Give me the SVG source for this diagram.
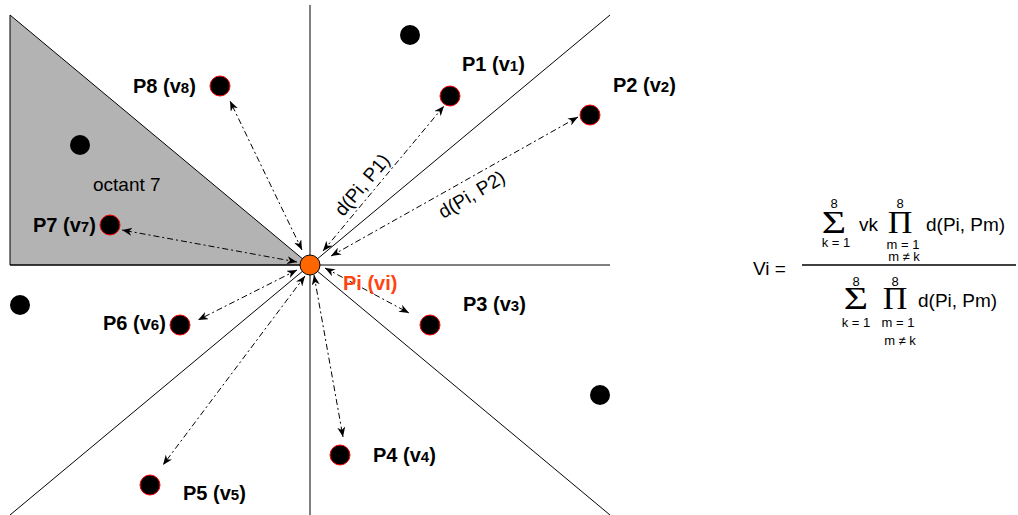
<svg xmlns="http://www.w3.org/2000/svg" width="1018" height="515" viewBox="0 0 1018 515">
<style>
.ax{stroke:#000;stroke-width:1;fill:none}
.c{stroke:#000;stroke-width:1;fill:none;stroke-dasharray:6 3 2 3;marker-start:url(#ah);marker-end:url(#ah)}
.pt{fill:#000;stroke:#f00;stroke-width:1}
.dot{fill:#000}
.lb{font-family:"Liberation Sans",Arial,sans-serif;font-weight:bold;font-size:20px;fill:#000}
.sm{font-size:15px}
.t{font-family:"Liberation Sans",Arial,sans-serif;font-size:19px;fill:#000}
.s{font-family:"Liberation Sans",Arial,sans-serif;font-size:13px;fill:#000;text-anchor:middle}
.op{font-family:"Liberation Serif","Times New Roman",serif;font-size:31px;fill:#000;text-anchor:middle}
</style>
<defs>
<marker id="ah" viewBox="0 0 10 8" refX="10" refY="4" markerWidth="10" markerHeight="8" markerUnits="userSpaceOnUse" orient="auto-start-reverse">
<path d="M0,0 L10,4 L0,8 L3,4 Z" fill="#000"/>
</marker>
</defs>
<g id="octant7">
<polygon points="10,15 310,265 10,265" fill="#B3B3B3" stroke="#000" stroke-width="1"/>
<text class="t" x="93" y="191">octant 7</text>
</g>
<g id="axes">
<line class="ax" x1="310" y1="5" x2="310" y2="515"/>
<line class="ax" x1="10" y1="265" x2="610" y2="265"/>
<line class="ax" x1="310" y1="265" x2="610" y2="15"/>
<line class="ax" x1="310" y1="265" x2="610" y2="515"/>
<line class="ax" x1="310" y1="265" x2="10" y2="515"/>
</g>
<g id="connectors">
<line class="c" x1="323" y1="251" x2="444" y2="106"/>
<line class="c" x1="331" y1="256" x2="578" y2="117"/>
<line class="c" x1="325" y1="268" x2="409" y2="313"/>
<line class="c" x1="314" y1="275" x2="343" y2="437"/>
<line class="c" x1="305" y1="276" x2="163" y2="465"/>
<line class="c" x1="297" y1="270" x2="198" y2="320"/>
<line class="c" x1="297" y1="262" x2="122" y2="230"/>
<line class="c" x1="302" y1="250" x2="230" y2="101"/>
<text class="t" transform="translate(367,189) rotate(-50)" text-anchor="middle">d(Pi, P1)</text>
<text class="t" transform="translate(475,200) rotate(-31)" text-anchor="middle">d(Pi, P2)</text>
</g>
<g id="dots">
<circle class="dot" cx="410" cy="35" r="10"/>
<circle class="dot" cx="80" cy="145" r="10"/>
<circle class="dot" cx="20" cy="305" r="10"/>
<circle class="dot" cx="600" cy="395" r="10"/>
</g>
<g id="P1"><circle class="pt" cx="450" cy="96" r="10"/><text class="lb" x="462" y="71">P1 (v<tspan class="sm">1</tspan>)</text></g>
<g id="P2"><circle class="pt" cx="590" cy="115" r="10"/><text class="lb" x="613" y="92">P2 (v<tspan class="sm">2</tspan>)</text></g>
<g id="P3"><circle class="pt" cx="430" cy="325" r="10"/><text class="lb" x="463" y="311">P3 (v<tspan class="sm">3</tspan>)</text></g>
<g id="P4"><circle class="pt" cx="340" cy="455" r="10"/><text class="lb" x="373" y="462">P4 (v<tspan class="sm">4</tspan>)</text></g>
<g id="P5"><circle class="pt" cx="150" cy="485" r="10"/><text class="lb" x="183" y="500">P5 (v<tspan class="sm">5</tspan>)</text></g>
<g id="P6"><circle class="pt" cx="180" cy="325" r="10"/><text class="lb" x="103" y="330">P6 (v<tspan class="sm">6</tspan>)</text></g>
<g id="P7"><circle class="pt" cx="110" cy="225" r="10"/><text class="lb" x="33" y="232">P7 (v<tspan class="sm">7</tspan>)</text></g>
<g id="P8"><circle class="pt" cx="220" cy="86" r="10"/><text class="lb" x="133" y="93">P8 (v<tspan class="sm">8</tspan>)</text></g>
<g id="Pi"><circle cx="310" cy="265" r="10" fill="#FF6600" stroke="#000" stroke-width="1"/><text class="lb" x="343" y="290" style="fill:#FF4411">Pi (vi)</text></g>
<g id="formula">
<text class="t" x="753" y="275">Vi =</text>
<line x1="802" y1="265" x2="1016" y2="265" stroke="#000" stroke-width="1.3"/>
<text class="s" x="834" y="208">8</text>
<text class="op" transform="translate(834,233) scale(1.35,1)">Σ</text>
<text class="s" x="836" y="247">k = 1</text>
<text class="t" x="859" y="231">vk</text>
<text class="s" x="900" y="208">8</text>
<text class="op" transform="translate(900,233) scale(1.1,1)">Π</text>
<text class="s" x="903" y="249">m = 1</text>
<text class="s" x="904" y="261">m ≠ k</text>
<text class="t" x="926" y="231">d(Pi, Pm)</text>
<text class="s" x="856" y="286">8</text>
<text class="op" transform="translate(856,309) scale(1.35,1)">Σ</text>
<text class="s" x="856" y="327">k = 1</text>
<text class="s" x="895" y="286">8</text>
<text class="op" transform="translate(895,309) scale(1.1,1)">Π</text>
<text class="s" x="898" y="327">m = 1</text>
<text class="s" x="900" y="345">m ≠ k</text>
<text class="t" x="918" y="307">d(Pi, Pm)</text>
</g>
</svg>
